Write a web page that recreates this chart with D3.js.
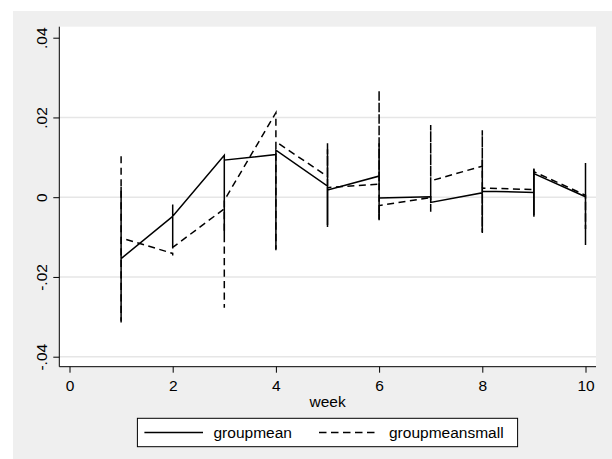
<!DOCTYPE html>
<html>
<head>
<meta charset="utf-8">
<script src="https://cdn.jsdelivr.net/npm/d3@7"></script>
<style>
  html, body { margin: 0; padding: 0; background: #ffffff; }
  svg { display: block; }
  text { font-family: "Liberation Sans", Arial, sans-serif; fill: #000; }
</style>
</head>
<body>
<svg id="chart" width="612" height="459"></svg>
<script>
// ---- data ----
const xTickValues = [0, 2, 4, 6, 8, 10];
const xTickLabels = ["0", "2", "4", "6", "8", "10"];
const yTickValues = [-0.04, -0.02, 0, 0.02, 0.04];
const yTickLabels = ["-.04", "-.02", "0", ".02", ".04"];
const xTitle = "week";
const seriesNames = ["groupmean", "groupmeansmall"];

// observations in data order (several groups per week)
const groupmeanWeek = [1,1,1, 2,2,2,2, 3,3,3, 4,4,4,4, 5,5,5,5, 6,6,6,6, 7,7, 8,8,8,8, 9,9,9,9, 10,10,10,10];
const groupmeanValue = [0.0026,-0.0314,-0.0154, -0.0048,-0.0018,-0.0125,-0.0048, 0.0105,-0.0095,0.0093,
  0.0107,0.0118,-0.0133,0.0118, 0.0028,0.0135,-0.0075,0.0018, 0.0053,0.0135,-0.0058,-0.0002,
  0.0001,-0.0013, 0.0011,0.0093,-0.0087,0.0015, 0.0012,0.0072,-0.0049,0.0059, 0.0001,0.0086,-0.0120,0.0000];

const groupmeansmallWeek = [1,1,1, 2,2,2, 3,3,3, 4,4,4, 5,5,5,5, 6,6,6,6, 7,7,7,7, 8,8,8,8, 9,9,9,9, 10,10,10];
const groupmeansmallValue = [0.0103,-0.0310,-0.0102, -0.0141,-0.0146,-0.0126, -0.0029,-0.0277,-0.0008,
  0.0212,-0.0130,0.0139, 0.0052,0.0120,-0.0070,0.0024, 0.0033,0.0268,-0.0055,-0.0021,
  -0.0001,0.0181,-0.0041,0.0041, 0.0078,0.0168,-0.0090,0.0023, 0.0019,0.0070,-0.0045,0.0064,
  0.0005,-0.0080,0.0003];

// ---- layout ----
const svg = d3.select("#chart");
const W = 612, H = 459;
const plot = { left: 59.3, right: 596, top: 26.7, bottom: 366.7 };
const FS = 15.5;

svg.append("rect").attr("x", 13).attr("y", 11).attr("width", W - 13).attr("height", H - 11).attr("fill", "#efefef");
svg.append("rect").attr("x", plot.left).attr("y", plot.top)
  .attr("width", plot.right - plot.left).attr("height", plot.bottom - plot.top).attr("fill", "#ffffff");

const x = d3.scaleLinear().domain([0, 10]).range([69.5, 585.5]);
const y = d3.scaleLinear().domain([-0.04, 0.04]).range([356.7, 37.7]);

// gridlines
svg.append("g").selectAll("line")
  .data(yTickValues.filter(v => v < 0.04))
  .join("line")
  .attr("x1", plot.left).attr("x2", plot.right)
  .attr("y1", d => y(d)).attr("y2", d => y(d))
  .attr("stroke", "#e6e6e6").attr("stroke-width", 1.5);

// y axis
const yAxis = d3.axisLeft(y).tickValues(yTickValues).tickSize(6).tickSizeOuter(0)
  .tickFormat((d, i) => yTickLabels[i]);
const gy = svg.append("g").attr("transform", `translate(${plot.left},0)`).call(yAxis);
gy.select(".domain").remove();
gy.selectAll(".tick line").attr("stroke", "#000").attr("stroke-width", 1);
gy.selectAll(".tick text")
  .attr("x", null).attr("dy", null)
  .attr("transform", "translate(-12.6,0) rotate(-90)")
  .attr("text-anchor", "middle")
  .style("font-size", FS + "px").style("font-family", "Liberation Sans, Arial, sans-serif");
svg.append("line").attr("x1", plot.left).attr("x2", plot.left)
  .attr("y1", plot.top).attr("y2", plot.bottom).attr("stroke", "#000").attr("stroke-width", 1);

// x axis
const xAxis = d3.axisBottom(x).tickValues(xTickValues).tickSize(6).tickSizeOuter(0)
  .tickFormat((d, i) => xTickLabels[i]);
const gx = svg.append("g").attr("transform", `translate(0,${plot.bottom})`).call(xAxis);
gx.select(".domain").remove();
gx.selectAll(".tick line").attr("stroke", "#000").attr("stroke-width", 1);
gx.selectAll(".tick text").attr("y", 24).attr("dy", null)
  .style("font-size", FS + "px").style("font-family", "Liberation Sans, Arial, sans-serif");
svg.append("line").attr("x1", plot.left).attr("x2", plot.right)
  .attr("y1", plot.bottom).attr("y2", plot.bottom).attr("stroke", "#000").attr("stroke-width", 1);

svg.append("text").attr("x", (plot.left + plot.right) / 2).attr("y", 406.5)
  .attr("text-anchor", "middle").style("font-size", FS + "px").text(xTitle);

// lines
const line = d3.line().x(d => x(d[0])).y(d => y(d[1]));
const solidPts = groupmeanWeek.map((w, i) => [w, groupmeanValue[i]]);
const dashPts = groupmeansmallWeek.map((w, i) => [w, groupmeansmallValue[i]]);

svg.append("path").datum(solidPts).attr("d", line)
  .attr("fill", "none").attr("stroke", "#000").attr("stroke-width", 1.5).attr("stroke-linejoin", "miter");
svg.append("path").datum(dashPts).attr("d", line)
  .attr("fill", "none").attr("stroke", "#000").attr("stroke-width", 1.5)
  .attr("stroke-dasharray", "7,4.5");

// legend
const lg = svg.append("g");
lg.append("rect").attr("x", 137.4).attr("y", 418.3).attr("width", 380.2).attr("height", 28.4)
  .attr("fill", "#fff").attr("stroke", "#000").attr("stroke-width", 1);
const legendItems = [
  { name: seriesNames[0], x1: 144.4, x2: 203, tx: 213.5, dash: null },
  { name: seriesNames[1], x1: 319, x2: 378.6, tx: 389, dash: "7.5,4.5" }
];
legendItems.forEach(it => {
  const l = lg.append("line").attr("x1", it.x1).attr("x2", it.x2).attr("y1", 432.5).attr("y2", 432.5)
    .attr("stroke", "#000").attr("stroke-width", 1.3);
  if (it.dash) l.attr("stroke-dasharray", it.dash);
  lg.append("text").attr("x", it.tx).attr("y", 438).style("font-size", FS + "px").text(it.name);
});
</script>
</body>
</html>
